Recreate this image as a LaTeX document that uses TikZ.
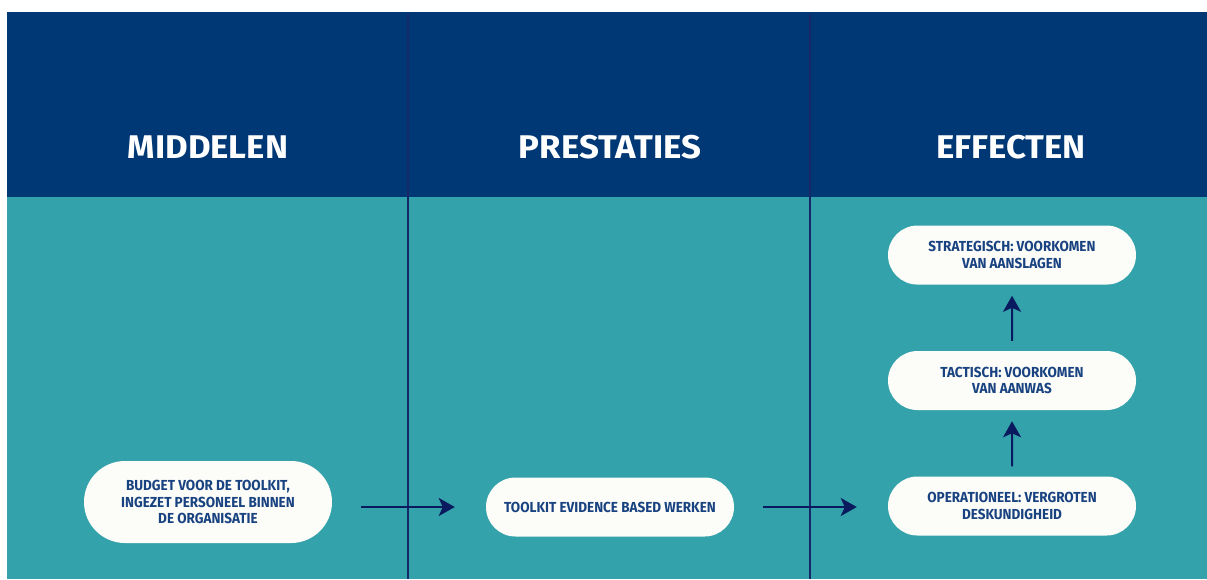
\documentclass[tikz,border=0pt]{standalone}
\usepackage{fontspec}
\setmainfont{Fira Sans}
\newfontfamily\boxfont{Fira Sans}[FakeStretch=0.93]
\newfontfamily\headfont{Fira Sans}[FakeStretch=1.06]
\usepackage{tikz}
\usetikzlibrary{arrows.meta,positioning,shapes.misc}

\definecolor{headblue}{RGB}{0,56,118}
\definecolor{teal}{RGB}{52,162,170}
\definecolor{boxwhite}{RGB}{252,252,249}
\definecolor{boxtext}{RGB}{24,66,128}
\definecolor{navy}{RGB}{10,26,94}
\definecolor{divider}{RGB}{22,40,104}

\tikzset{
  column/.style={text=white, font=\headfont\fontsize{28}{31}\selectfont\bfseries},
  block/.style={rounded rectangle, fill=boxwhite, text=boxtext, align=center,
    minimum width=7.44cm, minimum height=1.77cm, inner sep=0pt,
    font=\boxfont\fontsize{12.4}{14.2}\selectfont\bfseries},
  flow/.style={draw=navy, line width=1.7pt, -{Stealth[length=0.48cm, width=0.54cm, inset=0.12cm]}}
}

\begin{document}
\begin{tikzpicture}[x=0.03cm, y=-0.03cm]
\useasboundingbox (0,0) rectangle (1207,579);
% background
\fill[headblue] (7,12) rectangle (1207,197);
\fill[teal] (7,197) rectangle (1207,579);
\draw[divider, line width=1.1pt] (408,14) -- (408,579);
\draw[divider, line width=1.1pt] (810,14) -- (810,579);

% headers
\node[column] (h1) at (208,147) {MIDDELEN};
\node[column] (h2) at (610,147) {PRESTATIES};
\node[column] (h3) at (1011,147) {EFFECTEN};

% nodes
\node[block, minimum height=2.46cm] (budget) at (208,502) {BUDGET VOOR DE TOOLKIT,\\INGEZET PERSONEEL BINNEN\\DE ORGANISATIE};
\node[block] (toolkit) at (610,507) {TOOLKIT EVIDENCE BASED WERKEN};
\node[block] (oper) at (1012,506) {OPERATIONEEL: VERGROTEN\\DESKUNDIGHEID};
\node[block, above=1.98cm of oper] (tact) {TACTISCH: VOORKOMEN\\VAN AANWAS};
\node[block, above=1.98cm of tact] (strat) {STRATEGISCH: VOORKOMEN\\VAN AANSLAGEN};

% edges
\draw[flow, shorten <=0.87cm, shorten >=0.93cm] (budget.east |- toolkit.west) -- (toolkit.west);
\draw[flow, shorten <=0.87cm, shorten >=0.93cm] (toolkit.east) -- (oper.west |- toolkit.east);
\draw[flow, shorten <=0.3cm, shorten >=0.33cm] (oper) -- (tact);
\draw[flow, shorten <=0.3cm, shorten >=0.33cm] (tact) -- (strat);
\end{tikzpicture}
\end{document}
